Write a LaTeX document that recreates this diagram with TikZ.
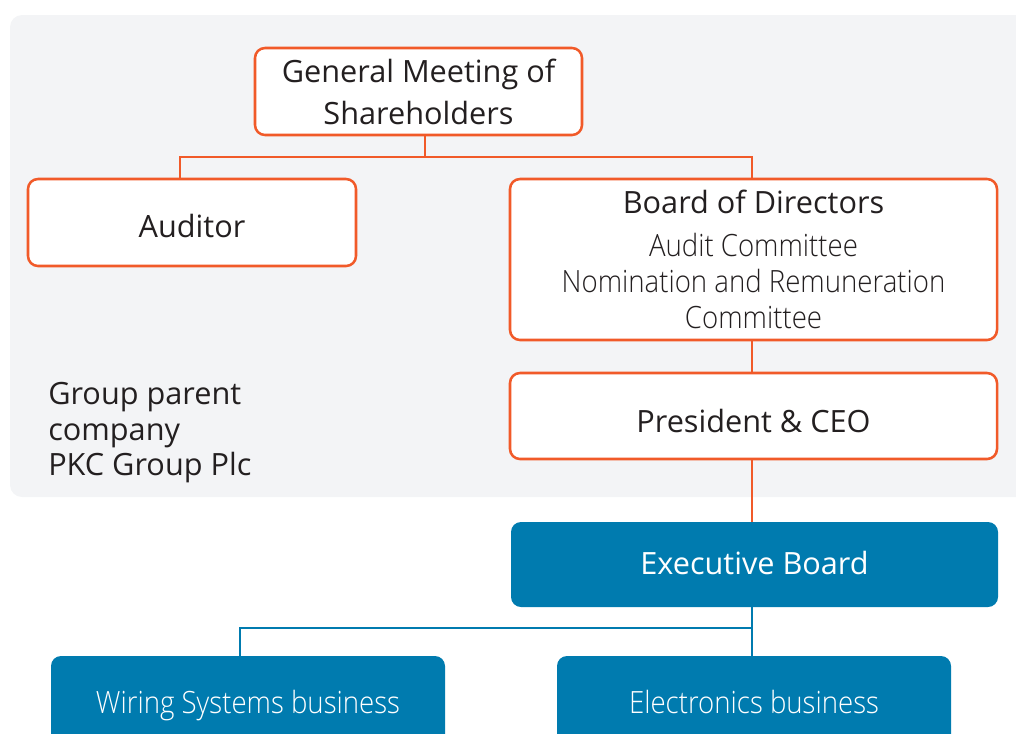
\documentclass[tikz,border=0pt]{standalone}
\usepackage{fontspec}
\setmainfont{Open Sans}
\newfontfamily\oslight{Open Sans}[UprightFont={* Light}, FakeStretch=0.9]
\definecolor{pkcorange}{HTML}{F15A29}
\definecolor{pkcblue}{HTML}{007BAF}
\definecolor{pkcgray}{HTML}{F3F4F6}
\definecolor{pkctext}{HTML}{231F20}
\begin{document}
\begin{tikzpicture}[x=0.75pt,y=-0.75pt,
  txt/.style={font=\fontsize{23}{27}\selectfont, text=pkctext},
  obox/.style={draw=pkcorange, line width=1.9pt, fill=white, rounded corners=7.5pt, align=center, inner sep=0pt, txt},
  bbox/.style={fill=pkcblue, draw=none, rounded corners=7.5pt, align=center, inner sep=0pt, font=\fontsize{23}{27}\selectfont, text=white},
  oline/.style={draw=pkcorange, line width=1.9pt},
  bline/.style={draw=pkcblue, line width=1.6pt}]
\useasboundingbox (0,0) rectangle (1016,733);
\clip (0,0) rectangle (1016,733);
\fill[pkcgray, rounded corners=9pt] (10,15) rectangle (1040,497);
% nodes
\node[obox, minimum width=245.25pt, minimum height=65.25pt, font=\fontsize{23}{31.5}\selectfont] (gm) at (418.5,91.5) {General Meeting of\\Shareholders};
\node[obox, minimum width=246pt, minimum height=65.25pt, text height=21.75pt, text depth=0pt] (aud) at (192,222.5) {Auditor};
\node[obox, minimum width=365.25pt, minimum height=120.75pt] (board) at (753.5,259.5) {Board of Directors\\[5pt]{\oslight Audit Committee}\\{\oslight Nomination and Remuneration}\\{\oslight Committee}};
\node[obox, minimum width=365.25pt, minimum height=64.5pt, text height=24pt, text depth=0pt] (ceo) at (753.5,416) {President \& CEO};
\node[bbox, minimum width=365.25pt, minimum height=63.75pt, text height=14.25pt, text depth=0pt] (exec) at (754.5,564.5) {Executive Board};
\node[bbox, minimum width=295.5pt, minimum height=69pt, text height=16.5pt, text depth=0pt] (wir) at (248,702) {\oslight Wiring Systems business};
\node[bbox, minimum width=295.5pt, minimum height=69pt, text height=16.5pt, text depth=0pt] (ele) at (754,702) {\oslight Electronics business};
\node[txt, anchor=west, align=left, inner sep=0pt, font=\fontsize{23}{26.6}\selectfont] (grp) at (48,433) {Group parent\\company\\PKC Group Plc};
% connectors
\coordinate (jm) at (425,157);
\coordinate (ja) at (180,157);
\coordinate (jb) at (752,157);
\coordinate (jc) at (752,628);
\coordinate (jw) at (240,628);
\draw[oline] (gm.south -| jm) -- (jm);
\draw[oline] (aud.north -| ja) -- (ja) -- (jb) -- (board.north -| jb);
\draw[oline] (board.south -| jb) -- (ceo.north -| jb);
\draw[oline] (ceo.south -| jb) -- (exec.north -| jb);
\draw[bline] (exec.south -| jc) -- (jc) -- (jw) -- (wir.north -| jw);
\draw[bline] (jc) -- (ele.north -| jc);
\end{tikzpicture}
\end{document}
